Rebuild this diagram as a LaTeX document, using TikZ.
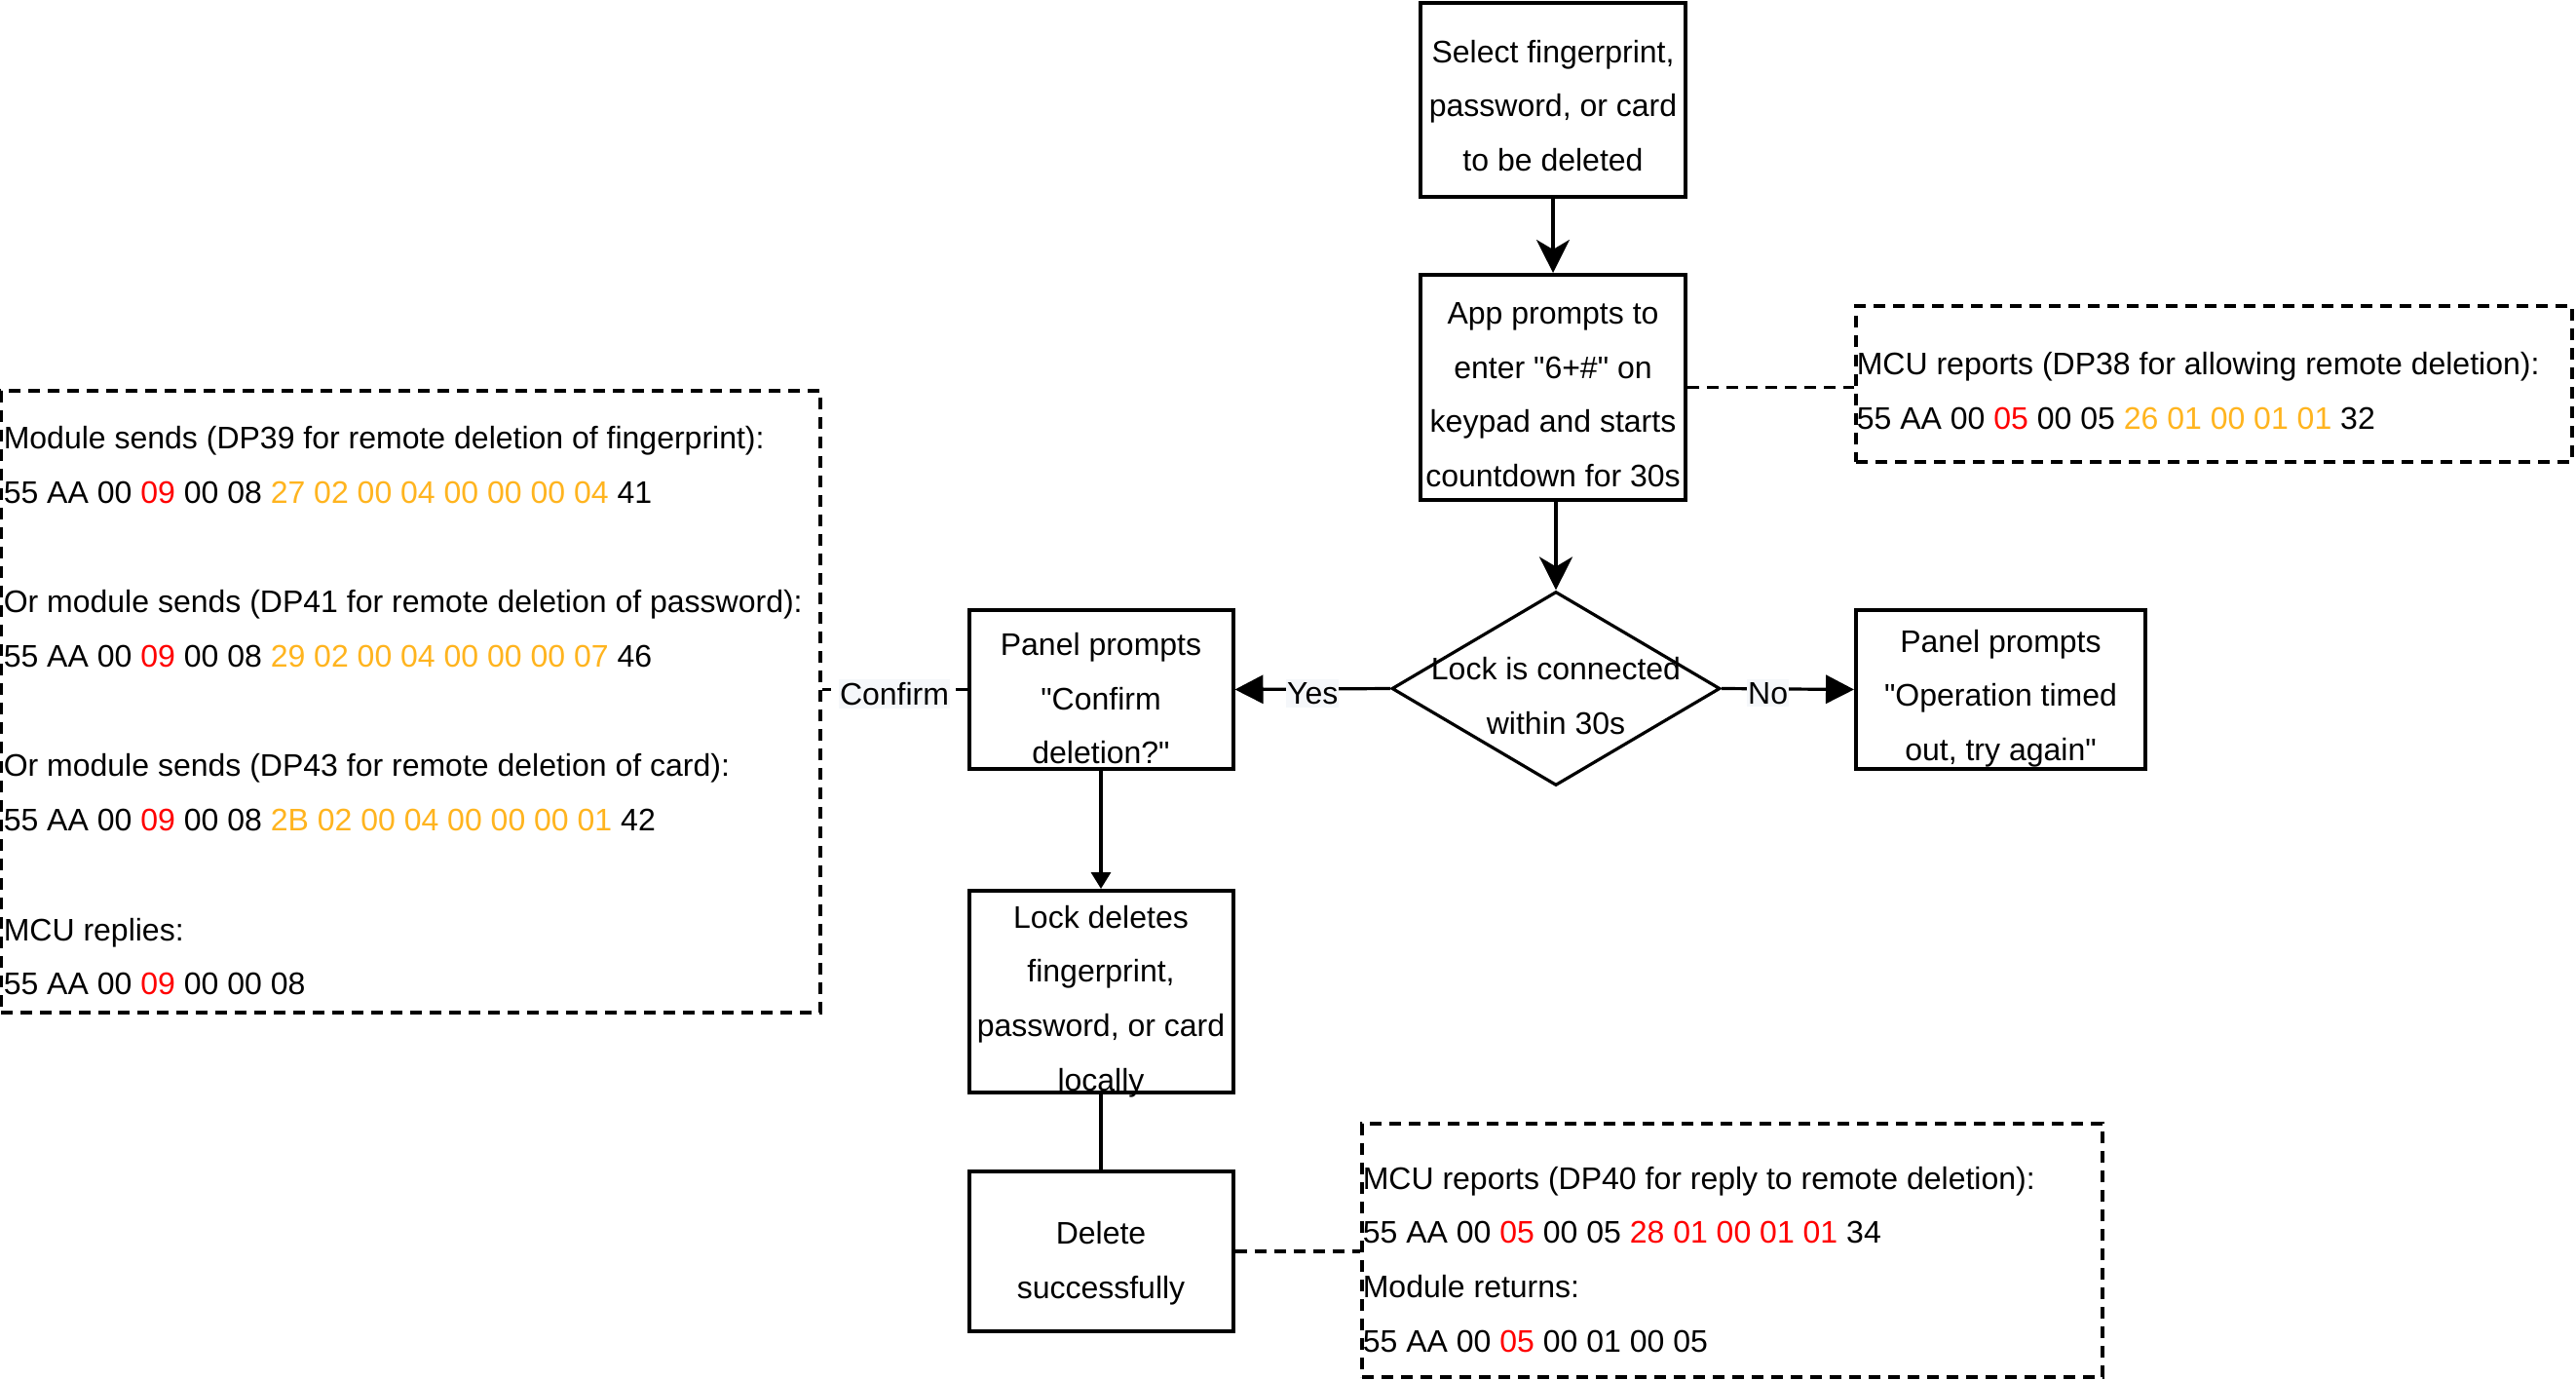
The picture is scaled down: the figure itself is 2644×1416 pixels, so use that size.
\documentclass[tikz,border=0pt]{standalone}
\usepackage{fontspec}
\setmainfont{Liberation Sans}[Ligatures=TeXOff]
\usetikzlibrary{shapes.geometric,arrows.meta}
\definecolor{hred}{HTML}{FF0000}
\definecolor{horange}{HTML}{FFB41F}
\definecolor{lblbg}{HTML}{F5F7FA}
\newcommand{\rd}[1]{\textcolor{hred}{#1}}
\newcommand{\og}[1]{\textcolor{horange}{#1}}
\begin{document}
\begin{tikzpicture}[x=0.5pt,y=-0.5pt,
  every node/.style={font=\fontsize{16}{27.8}\selectfont},
  procbox/.style={draw, line width=2pt, rectangle, inner sep=0pt},
  boxtext/.style={align=center, inner sep=0pt},
  notebox/.style={draw, line width=1.6pt, dash pattern=on 6pt off 4pt, rectangle, inner sep=0pt},
  notetext/.style={anchor=west, align=left, inner sep=0pt},
  flow/.style={line width=1.6pt},
  bigtip/.style={-{Stealth[length=17pt,width=17pt,inset=5pt]}},
  blocktip/.style={-{Triangle[length=14.5pt,width=14.5pt]}},
  smalltip/.style={-{Triangle[length=8.5pt,width=10pt]}},
  lbl/.style={fill=lblbg, inner xsep=0.5pt, inner ysep=1.5pt, yshift=-2.2pt},
  dashlink/.style={line width=1.6pt, dash pattern=on 6pt off 4pt}
]
\useasboundingbox (0,0) rectangle (2644,1416);

% process boxes
\node[procbox, minimum width=136pt, minimum height=99.5pt] (s1) at (1594,102.5) {};
\node[boxtext] (s1t) at ([yshift=-3pt]s1.center)
  {Select fingerprint,\\password, or card\\to be deleted};
\node[procbox, minimum width=136pt, minimum height=115.5pt] (s2) at (1594,397.5) {};
\node[boxtext] (s2t) at ([yshift=-3.8pt]s2.center)
  {App prompts to\\enter "6+\#" on\\keypad and starts\\countdown for 30s};
\node[diamond, draw, line width=1.6pt, inner sep=0pt, shape aspect=1.69,
  minimum width=168.5pt, minimum height=99.5pt] (dia) at (1597,706.5) {};
\node[boxtext] (diat) at (1597,714) {Lock is connected\\within 30s};
\node[procbox, minimum width=135.5pt, minimum height=81.5pt] (conf) at (1130,707.5) {};
\node[boxtext] (conft) at ([yshift=-4.6pt]conf.center)
  {Panel prompts\\"Confirm\\deletion?"};
\node[procbox, minimum width=148.5pt, minimum height=81.5pt] (tout) at (2053.5,707.5) {};
\node[boxtext] (toutt) at ([yshift=-4.6pt]tout.center)
  {Panel prompts\\"Operation timed\\out, try again"};
\node[procbox, minimum width=135.5pt, minimum height=103.5pt] (lockd) at (1130,1017.5) {};
\node[boxtext] (lockdt) at ([yshift=-5pt]lockd.center)
  {Lock deletes\\fingerprint,\\password, or card\\locally};
\node[procbox, minimum width=135.5pt, minimum height=82pt] (dels) at (1130,1284) {};
\node[boxtext] (delst) at ([yshift=-6pt]dels.center) {Delete\\successfully};

% note boxes
\node[notebox, minimum width=420.5pt, minimum height=319pt] (L) at (421.5,720) {};
\node[notetext] (Lt) at ([xshift=2pt,yshift=-4.6pt]L.west) {Module sends (DP39 for remote deletion of fingerprint):\\
55 AA 00 \rd{09} 00 08 \og{27 02 00 04 00 00 00 04} 41\\[28.5pt]
Or module sends (DP41 for remote deletion of password):\\
55 AA 00 \rd{09} 00 08 \og{29 02 00 04 00 00 00 07} 46\\[28.5pt]
Or module sends (DP43 for remote deletion of card):\\
55 AA 00 \rd{09} 00 08 \og{2B 02 00 04 00 00 00 01} 42\\[28.5pt]
MCU replies:\\
55 AA 00 \rd{09} 00 00 08};

\node[notebox, minimum width=367.5pt, minimum height=80pt] (R1) at (2272.5,394) {};
\node[notetext] (R1t) at ([xshift=1pt,yshift=-3.4pt]R1.west) {MCU reports (DP38 for allowing remote deletion):\\
55 AA 00 \rd{05} 00 05 \og{26 01 00 01 01} 32};

\node[notebox, minimum width=380pt, minimum height=130pt] (R2) at (1778,1283) {};
\node[notetext] (R2t) at ([xshift=1pt,yshift=-4.6pt]R2.west) {MCU reports (DP40 for reply to remote deletion):\\
55 AA 00 \rd{05} 00 05 \rd{28 01 00 01 01} 34\\
Module returns:\\
55 AA 00 \rd{05} 00 01 00 05};

% connectors
\draw[flow, bigtip] (s1) -- (s2);
\draw[flow, bigtip] (s2.south -| dia.north) -- (dia.north);
\draw[flow, blocktip] (dia.west) -- node[lbl] (yes) {Yes} (conf.east);
\draw[flow, blocktip] (dia.east) -- node[lbl, pos=0.35] (no) {No} (tout.west);
\draw[flow, smalltip] (conf) -- (lockd);
\draw[flow] (lockd) -- (dels);
\draw[dashlink] (s2.east) -- (s2.east -| R1.west);
\draw[dashlink] (conf.west) -- node[lbl] (cf) {Confirm} (conf.west -| L.east);
\draw[dashlink] (dels.east) -- (dels.east -| R2.west);
\end{tikzpicture}
\end{document}
